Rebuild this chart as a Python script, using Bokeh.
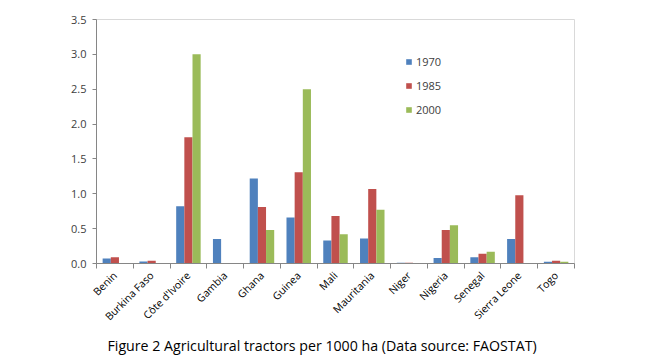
import numpy as np
from bokeh.plotting import figure
from bokeh.models import (ColumnDataSource, FixedTicker, Range1d, Title, Legend, LegendItem,
                          NumeralTickFormatter)
from bokeh.embed import file_html
from bokeh.resources import INLINE

countries = ["Benin", "Burkina Faso", "Côte d'Ivoire", "Gambia", "Ghana", "Guinea", "Mali",
             "Mauritania", "Niger", "Nigeria", "Senegal", "Sierra Leone", "Togo"]
years = ["1970", "1985", "2000"]
v1970 = [0.07, 0.03, 0.82, 0.35, 1.22, 0.66, 0.33, 0.36, 0.01, 0.08, 0.09, 0.35, 0.025]
v1985 = [0.09, 0.04, 1.81, 0.0, 0.81, 1.31, 0.68, 1.07, 0.01, 0.48, 0.14, 0.98, 0.04]
v2000 = [0.0, 0.0, 3.00, 0.0, 0.48, 2.50, 0.42, 0.77, 0.0, 0.55, 0.17, 0.0, 0.025]
colors = ["#4F81BD", "#C0504D", "#9BBB59"]
y_ticks = [0.0, 0.5, 1.0, 1.5, 2.0, 2.5, 3.0, 3.5]
caption = "Figure 2 Agricultural tractors per 1000 ha (Data source: FAOSTAT)"

FONT = "Open Sans"
n = len(countries)
centers = np.arange(n) + 0.5
bw = 0.222

p = figure(width=647, height=356, output_backend="svg", toolbar_location=None,
           x_range=Range1d(0, n), y_range=Range1d(0, 3.5),
           min_border_left=96, min_border_right=73, min_border_top=19, min_border_bottom=91)
p.xgrid.visible = False
p.ygrid.visible = False
p.outline_line_color = "#d9d9d9"
p.background_fill_color = "white"
p.border_fill_color = "white"

renderers = []
for k, (vals, col) in enumerate(zip([v1970, v1985, v2000], colors)):
    src = ColumnDataSource(dict(x=centers + (k - 1) * bw, top=vals))
    r = p.vbar(x="x", top="top", bottom=0, width=bw, source=src, fill_color=col, line_color=None)
    renderers.append(r)

legend = Legend(items=[LegendItem(label=y, renderers=[r]) for y, r in zip(years, renderers)],
                location=(309, 146), orientation="vertical")
legend.glyph_width = 7
legend.glyph_height = 7
legend.label_standoff = 4
legend.spacing = 9
legend.padding = 0
legend.margin = 0
legend.border_line_color = None
legend.background_fill_alpha = 0
legend.label_text_font = FONT
legend.label_text_font_size = "11px"
legend.label_text_color = "#404040"
p.add_layout(legend, "center")

# x axis
xa = p.xaxis[0]
xa.ticker = FixedTicker(ticks=list(centers), minor_ticks=list(np.arange(n + 1)))
xa.major_label_overrides = {float(c): name for c, name in zip(centers, countries)}
xa.major_label_orientation = np.pi / 4
xa.major_tick_line_color = None
xa.minor_tick_line_color = "#868686"
xa.minor_tick_in = 0
xa.minor_tick_out = 5
xa.axis_line_color = "#868686"
xa.major_label_text_font = FONT
xa.major_label_text_font_size = "10.5px"
xa.major_label_text_color = "#000000"
xa.major_label_standoff = 4

ya = p.yaxis[0]
ya.ticker = FixedTicker(ticks=y_ticks, minor_ticks=[])
ya.formatter = NumeralTickFormatter(format="0.0")
ya.axis_line_color = "#868686"
ya.major_tick_line_color = "#868686"
ya.major_tick_in = 0
ya.major_tick_out = 4
ya.minor_tick_line_color = None
ya.major_label_text_font = FONT
ya.major_label_text_font_size = "11px"
ya.major_label_text_color = "#404040"
ya.major_label_standoff = 6

t = Title(text=caption, align="left", offset=11, text_font=FONT, text_font_size="14.2px",
          text_font_style="normal", text_color="#000000", standoff=4)
p.add_layout(t, "below")

open("out.html", "w").write(file_html(p, INLINE))
